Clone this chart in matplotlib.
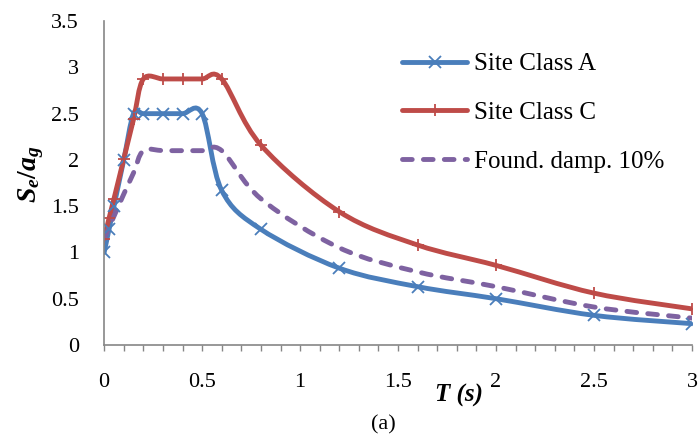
import numpy as np
import matplotlib
matplotlib.use('Agg')
import matplotlib.pyplot as plt
from matplotlib.path import Path
from matplotlib.patches import PathPatch
from matplotlib.lines import Line2D
from matplotlib.ticker import MultipleLocator

plt.rcParams['font.family'] = 'Liberation Serif'
plt.rcParams['mathtext.fontset'] = 'custom'
plt.rcParams['mathtext.it'] = 'Liberation Serif:italic:bold'
plt.rcParams['mathtext.rm'] = 'Liberation Serif:bold'

# period T (s)
period = [0, 0.025, 0.05, 0.1, 0.15, 0.2, 0.3, 0.4, 0.5, 0.6, 0.8, 1.2, 1.6, 2.0, 2.5, 3.0]
site_a = [1.0, 1.25, 1.5, 2.0, 2.5, 2.5, 2.5, 2.5, 2.5, 1.67, 1.25, 0.83, 0.63, 0.5, 0.32, 0.23]
site_c = [1.15, 1.37, 1.58, 2.01, 2.44, 2.875, 2.875, 2.875, 2.875, 2.875, 2.16, 1.44, 1.08, 0.86, 0.56, 0.39]
found_damp = [1.15, 1.27, 1.39, 1.63, 1.86, 2.1, 2.1, 2.1, 2.1, 2.1, 1.58, 1.05, 0.79, 0.63, 0.41, 0.29]

labels = ['Site Class A', 'Site Class C', 'Found. damp. 10%']
colors = ['#4A7EBB', '#BE4B48', '#7E62A1']
markers = ['x', '+', None]
styles = ['-', '-', '--']


def smooth_path(x, y):
    # excel-like smoothed line: bezier segments through the data points
    pts = np.column_stack([x, y]).astype(float)
    n = len(pts)
    verts = [pts[0]]
    codes = [Path.MOVETO]
    for i in range(n - 1):
        p0 = pts[i - 1] if i > 0 else pts[i]
        p1, p2 = pts[i], pts[i + 1]
        p3 = pts[i + 2] if i + 2 < n else p2
        verts += [p1 + (p2 - p0) / 6, p2 - (p3 - p1) / 6, p2]
        codes += [Path.CURVE4] * 3
    return Path(verts, codes)


fig = plt.figure(figsize=(6.99, 4.4), dpi=100)
ax = fig.add_axes([0.149, 0.216, 0.841, 0.736])

lw = 3.5
dash = (0, (2.0, 2.3))
handles = []
for vals, lab, col, mk, ls in zip([site_a, site_c, found_damp], labels, colors, markers, styles):
    patch = PathPatch(smooth_path(period, vals), fill=False, edgecolor=col, lw=lw,
                      linestyle=dash if ls == '--' else '-', capstyle='round', joinstyle='round')
    ax.add_patch(patch)
    if mk:
        ax.plot(period, vals, linestyle='none', marker=mk, color=col, markersize=8.5, markeredgewidth=1.3)
        handles.append(Line2D([], [], color=col, lw=lw, marker=mk, markersize=8.5, markeredgewidth=1.3,
                              solid_capstyle='round'))
    else:
        handles.append(Line2D([], [], color=col, lw=lw, linestyle=dash, dash_capstyle='round'))

ax.set_xlim(0, 3)
ax.set_ylim(0, 3.5)
ax.xaxis.set_minor_locator(MultipleLocator(0.1))
ax.set_xticks([0, 0.5, 1, 1.5, 2, 2.5, 3])
ax.set_xticklabels(['0', '0.5', '1', '1.5', '2', '2.5', '3'])
ax.set_yticks([0, 0.5, 1, 1.5, 2, 2.5, 3, 3.5])
ax.set_yticklabels(['0', '0.5', '1', '1.5', '2', '2.5', '3', '3.5'])

for s in ['top', 'right']:
    ax.spines[s].set_visible(False)
for s in ['left', 'bottom']:
    ax.spines[s].set_color('#868686')
    ax.spines[s].set_linewidth(1.2)

ax.tick_params(axis='x', which='both', direction='out', length=4, width=1, color='#868686',
               labelsize=16, pad=16)
ax.tick_params(axis='y', which='both', length=0, labelsize=16, pad=18)

fig.text(31 / 699, 1 - 174 / 440, '$S_e/a_g$', fontsize=20, rotation=90, ha='center', va='center')
fig.text(459 / 699, 1 - 395 / 440, 'T (s)', fontsize=18, fontweight='bold', fontstyle='italic',
         ha='center', va='center')
fig.text(383 / 699, 1 - 425 / 440, '(a)', fontsize=16, ha='center', va='center')

ax.legend(handles, labels, loc='upper left', bbox_to_anchor=(402 / 699, 1 - 53 / 440),
          bbox_transform=fig.transFigure, frameon=False, fontsize=18, handlelength=2.6,
          handletextpad=0.3, labelspacing=1.05, borderaxespad=0, borderpad=0)

plt.savefig('out.png', dpi=100)
